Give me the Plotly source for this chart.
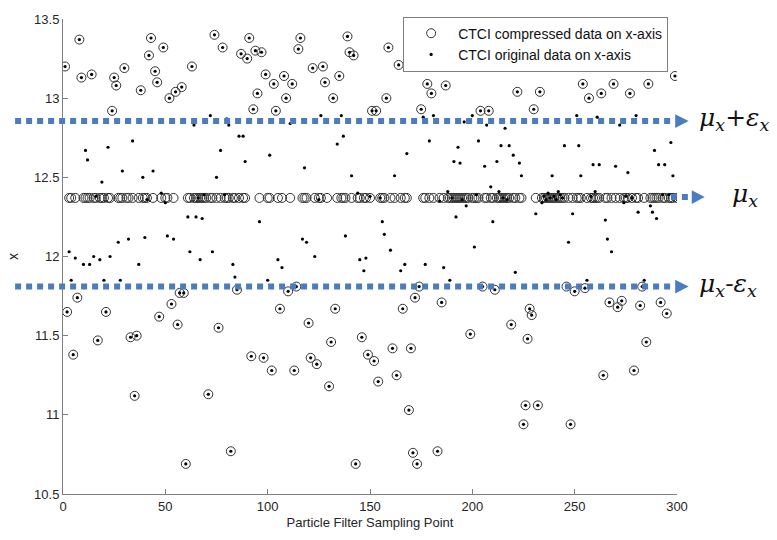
import plotly.graph_objects as go

# Sample index of the particle filter (1..300)
SAMPLE_INDEX = list(range(1, 301))

# Original CTCI values on the x-axis, one per sampling point
ORIGINAL_X = [
    13.20, 11.65, 12.03, 11.85, 11.38, 11.99, 11.74, 13.37, 13.13, 11.95,
    12.67, 12.61, 11.95, 13.15, 12.00, 12.38, 11.47, 11.98, 12.47, 11.85,
    11.65, 12.69, 12.00, 12.92, 13.13, 13.08, 12.09, 11.85, 12.54, 13.19,
    12.85, 12.11, 11.49, 12.73, 11.12, 11.50, 11.95, 13.05, 12.50, 12.12,
    12.36, 13.27, 13.38, 12.54, 13.17, 13.10, 11.62, 12.40, 13.32, 12.34,
    12.13, 13.00, 11.70, 12.11, 13.04, 11.57, 11.77, 13.07, 11.77, 10.69,
    12.25, 12.03, 13.20, 12.83, 12.25, 12.37, 11.98, 12.24, 12.39, 12.85,
    11.13, 12.89, 12.03, 13.40, 12.50, 11.55, 12.67, 13.32, 12.39, 12.87,
    12.83, 10.77, 11.95, 11.87, 11.79, 12.76, 13.28, 12.76, 12.60, 13.25,
    13.38, 11.37, 12.93, 13.30, 13.03, 12.22, 13.29, 11.36, 13.15, 11.85,
    12.64, 11.28, 13.09, 12.92, 11.98, 11.67, 11.93, 13.14, 13.00, 11.78,
    12.84, 13.09, 11.28, 11.81, 13.31, 13.38, 12.11, 12.56, 12.09, 11.58,
    11.36, 13.19, 12.00, 11.32, 12.36, 12.89, 13.20, 13.10, 12.85, 11.18,
    11.46, 13.00, 11.67, 12.71, 13.14, 12.89, 12.76, 12.13, 13.39, 13.29,
    12.51, 13.27, 10.69, 12.40, 11.98, 11.49, 11.91, 11.99, 11.38, 12.38,
    12.92, 11.34, 12.92, 11.21, 12.37, 12.22, 12.14, 13.00, 13.32, 12.04,
    11.42, 12.51, 11.25, 13.21, 11.91, 11.67, 11.95, 12.65, 11.03, 11.42,
    10.76, 11.74, 10.69, 11.81, 12.93, 12.88, 11.95, 13.09, 12.73, 13.03,
    12.89, 13.22, 10.77, 12.35, 11.71, 11.93, 13.08, 12.41, 11.85, 12.37,
    12.60, 12.25, 12.69, 12.59, 12.36, 12.85, 12.32, 12.86, 11.51, 12.89,
    12.06, 12.39, 12.73, 12.92, 11.81, 12.57, 12.83, 12.92, 12.44, 12.22,
    11.79, 12.60, 12.41, 12.70, 12.37, 12.81, 12.36, 12.70, 11.57, 12.64,
    11.90, 13.04, 12.59, 12.51, 10.94, 11.06, 11.48, 11.67, 11.63, 12.93,
    12.27, 11.06, 13.04, 12.34, 12.38, 12.36, 12.40, 12.37, 12.51, 12.38,
    12.36, 12.41, 12.39, 12.37, 12.70, 11.81, 12.09, 10.94, 12.27, 11.78,
    12.89, 12.70, 12.51, 13.09, 11.80, 11.85, 13.00, 12.38, 12.58, 12.41,
    12.88, 12.58, 13.03, 11.25, 12.23, 12.11, 11.71, 12.03, 13.09, 12.57,
    11.68, 12.83, 11.72, 12.34, 12.38, 12.53, 13.03, 12.37, 11.28, 12.89,
    12.28, 11.69, 11.81, 11.85, 11.46, 13.09, 12.32, 12.28, 12.67, 12.24,
    12.58, 11.71, 12.39, 12.58, 11.64, 12.39, 12.72, 12.51, 13.14, 12.37,
]

# Compression parameters: values inside mu +/- eps collapse onto mu
MU = 12.37
EPS = 0.535

# Levels of the guide arrows and their labels
ARROW_LEVELS = [12.855, 12.375, 11.81]
ARROW_LABELS = [
    "μ<sub>x</sub>+ε<sub>x</sub>",
    "μ<sub>x</sub>",
    "μ<sub>x</sub>-ε<sub>x</sub>",
]

X_TICKS = [0, 50, 100, 150, 200, 250, 300]
Y_TICKS = [10.5, 11, 11.5, 12, 12.5, 13, 13.5]

COMPRESSED_X = [MU if abs(v - MU) <= EPS else v for v in ORIGINAL_X]

BLUE = "#4a7cc0"
AXIS_GRAY = "#7f7f7f"
TEXT_FONT = "Liberation Sans, Arial, sans-serif"

fig = go.Figure()

fig.add_trace(go.Scatter(
    x=SAMPLE_INDEX, y=COMPRESSED_X, mode="markers",
    name="CTCI compressed data on x-axis",
    marker=dict(symbol="circle-open", size=9, color="#333333",
                line=dict(width=1, color="#333333")),
))
fig.add_trace(go.Scatter(
    x=SAMPLE_INDEX, y=ORIGINAL_X, mode="markers",
    name="CTCI original data on x-axis",
    marker=dict(symbol="circle", size=3.2, color="#000000"),
))

# Dashed guide arrows drawn across the plot and out into the right margin
shapes = []
annotations = []
for level, label in zip(ARROW_LEVELS, ARROW_LABELS):
    is_mu = label == ARROW_LABELS[1]
    x_start = 0.99 if is_mu else -0.078
    x_base = 1.024 if is_mu else 0.997
    x_tip = 1.045 if is_mu else 1.019
    half_h = 0.043
    shapes.append(dict(
        type="line", xref="paper", yref="y",
        x0=x_start, x1=x_base, y0=level, y1=level,
        line=dict(color=BLUE, width=6, dash="6px,5px"),
        layer="above",
    ))
    shapes.append(dict(
        type="path", xref="paper", yref="y",
        path=f"M {x_base} {level + half_h} L {x_tip} {level} L {x_base} {level - half_h} Z",
        fillcolor=BLUE, line=dict(width=0), layer="above",
    ))
    annotations.append(dict(
        xref="paper", yref="y",
        x=1.087 if is_mu else 1.032, y=level,
        xanchor="left", yanchor="middle", yshift=2,
        text=label, showarrow=False,
        font=dict(family="DejaVu Serif, serif", size=25, color="#111111", style="italic"),
    ))

fig.update_layout(
    width=777, height=540,
    margin=dict(l=60, r=100, t=14, b=46),
    paper_bgcolor="white", plot_bgcolor="white",
    shapes=shapes, annotations=annotations,
    showlegend=True,
    legend=dict(
        x=0.554, y=1.005, xanchor="left", yanchor="top",
        bgcolor="white", bordercolor=AXIS_GRAY, borderwidth=1,
        font=dict(family=TEXT_FONT, size=14, color="#111111"),
        itemwidth=44, tracegroupgap=0,
    ),
    font=dict(family=TEXT_FONT, size=13, color="#262626"),
)

fig.update_xaxes(
    range=[0, 300], tickvals=X_TICKS,
    showline=True, linecolor=AXIS_GRAY, linewidth=1, mirror=False,
    ticks="inside", ticklen=5, tickcolor=AXIS_GRAY,
    showgrid=False, zeroline=False,
    title=dict(text="Particle Filter Sampling Point", font=dict(size=13), standoff=5),
)
fig.update_yaxes(
    range=[10.5, 13.5], tickvals=Y_TICKS,
    showline=True, linecolor=AXIS_GRAY, linewidth=1, mirror=False,
    ticks="inside", ticklen=5, tickcolor=AXIS_GRAY,
    showgrid=False, zeroline=False,
    title=dict(text="x", font=dict(size=14), standoff=12),
)

fig.write_html("out.html")
